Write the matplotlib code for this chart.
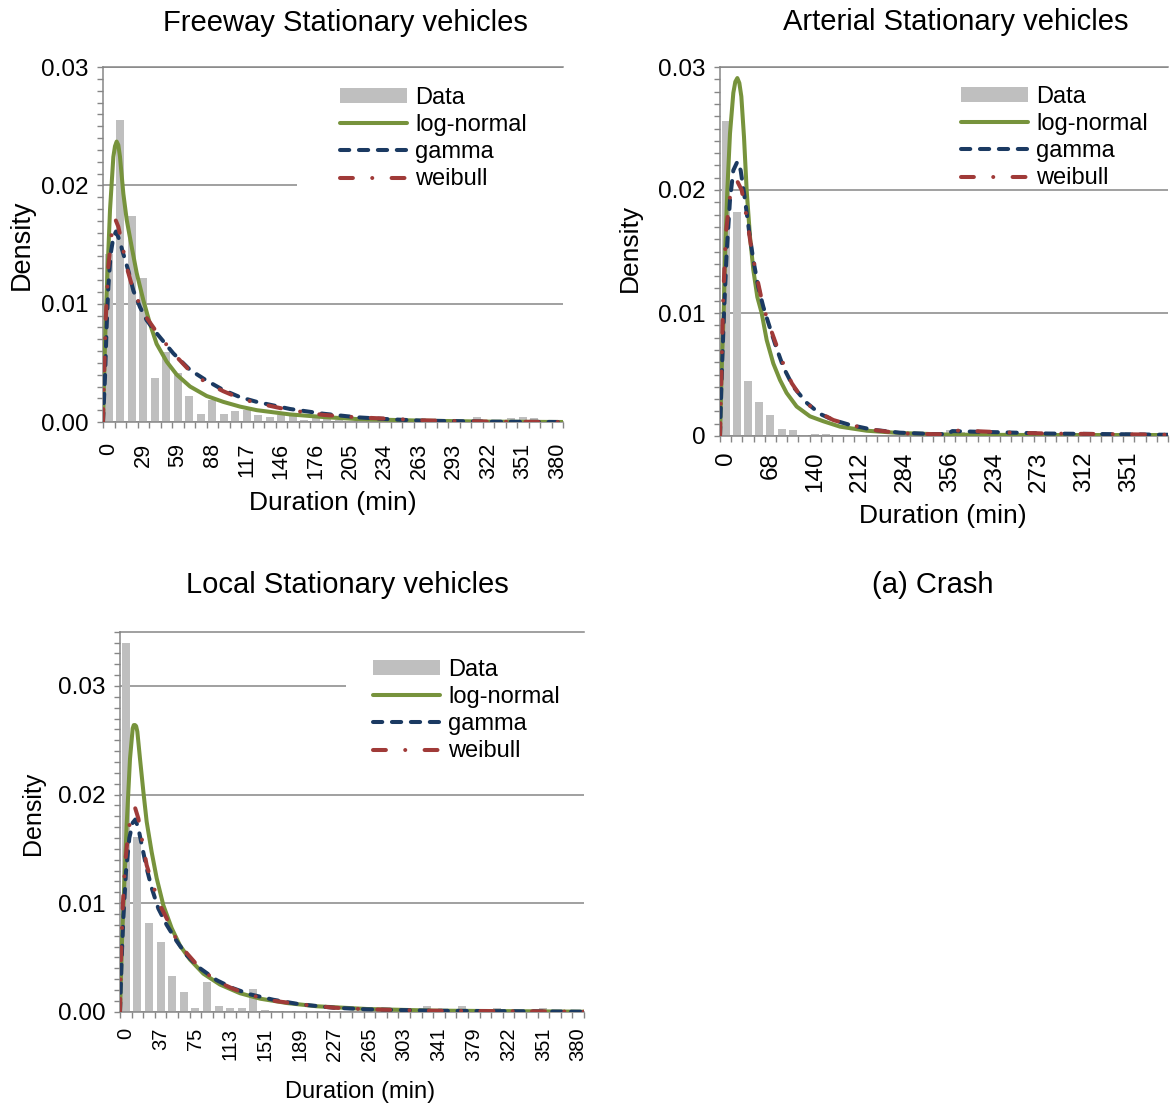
import matplotlib
matplotlib.use('Agg')
import matplotlib.pyplot as plt
from matplotlib.ticker import MultipleLocator, FixedLocator
from matplotlib.patches import Patch, Rectangle
from matplotlib.lines import Line2D
import numpy as np

plt.rcParams['font.family'] = ['Liberation Sans', 'DejaVu Sans']

W, H = 1171, 1106

# ---------------- data ----------------
n_bins = 40
max_minutes = 380
series_names = ['Data', 'log-normal', 'gamma', 'weibull']

# Freeway
fw_labels = ['0', '29', '59', '88', '117', '146', '176', '205', '234', '263', '293', '322', '351', '380']
fw_data = [0.0142, 0.0255, 0.0174, 0.0122, 0.0037, 0.0059, 0.0041, 0.0022, 0.0007, 0.0019,
           0.0007, 0.0009, 0.0010, 0.0006, 0.0004, 0.0006, 0.0005, 0.0002, 0.0003, 0.0008,
           0.0002, 0.0001, 0.0001, 0.0001, 0.0001, 0.0001, 0.0001, 0.0001, 0.0001, 0.0001,
           0.0001, 0.0001, 0.0004, 0.0001, 0.0001, 0.0003, 0.0004, 0.0003, 0.0001, 0.0001]
fw_lognorm_x = [0, 1.65, 3.03, 5.78, 8.54, 9.9, 11.29, 12.67, 14.04, 16.8, 19.56, 23.7, 27.8, 33.3,
                38.8, 44.3, 52.6, 60.9, 71.9, 85.6, 99.4, 113.2, 127, 154.5, 182, 209.5, 264.6,
                319.7, 380]
fw_lognorm_y = [0, 0.0066, 0.0109, 0.0179, 0.0224, 0.0233, 0.0237, 0.0234, 0.0224, 0.0193, 0.0171,
                0.0148, 0.0126, 0.0103, 0.0083, 0.0066, 0.0051, 0.0040, 0.0030, 0.0022, 0.0017,
                0.0013, 0.0010, 0.00064, 0.00042, 0.00025, 0.00011, 0.00003, 0]
fw_gamma_x = [0, 1.65, 3.03, 4.41, 6.33, 8.54, 10.74, 13.5, 16.8, 20.9, 25.1, 30.6, 36.1, 44.3, 58.1,
              71.9, 85.6, 99.4, 113.2, 127, 140.7, 154.5, 182, 209.5, 237, 264.6, 319.7, 380]
fw_gamma_y = [0, 0.0038, 0.0081, 0.0114, 0.0142, 0.0156, 0.0161, 0.0154, 0.0142, 0.0128, 0.0111,
              0.0097, 0.0086, 0.0075, 0.0058, 0.0044, 0.0035, 0.0027, 0.0021, 0.0017, 0.0014,
              0.0011, 0.0007, 0.0004, 0.00023, 0.00011, 0.00003, 0]
fw_weibull_x = [0, 0.83, 2.2, 4.41, 7.16, 9.91, 12.67, 15.4, 19.56, 25.1, 30.6, 36.1, 44.3, 58.1,
                71.9, 85.6, 99.4, 113.2, 127, 154.5, 182, 209.5, 264.6, 319.7, 380]
fw_weibull_y = [0, 0.0038, 0.0086, 0.0131, 0.0159, 0.0172, 0.0165, 0.0152, 0.0131, 0.0111, 0.0099,
                0.0088, 0.0076, 0.0058, 0.0043, 0.0033, 0.0026, 0.0020, 0.0016, 0.0010, 0.0006,
                0.0004, 0.00014, 0.00003, 0]

# Arterial
ar_labels = ['0', '68', '140', '212', '284', '356', '234', '273', '312', '351']
ar_data = [0.0256, 0.0182, 0.0045, 0.0028, 0.0017, 0.0006, 0.0005, 0.0001, 0.0002, 0.0002,
           0.0, 0.0, 0.0, 0.0, 0.0, 0.0, 0.0, 0.0, 0.0, 0.0001,
           0.0005, 0.0003, 0.0002, 0.0002, 0.0003, 0.0002, 0.0002, 0.0001, 0.0002, 0.0001,
           0.0001, 0.0001, 0.0003, 0.0001, 0.0001, 0.0002, 0.0003, 0.0002, 0.0001, 0.0001]
ar_lognorm_x = [0, 1.70, 3.11, 4.52, 6.22, 8.48, 11.31, 13.0, 14.7, 16.4, 18.1, 20.36, 22.6, 25.45,
                28.27, 31.66, 35.34, 39.6, 45.2, 50.9, 56.5, 65.0, 76.3, 87.6, 101.8, 124.4, 152.7,
                195.1, 265.8, 380]
ar_lognorm_y = [0, 0.0062, 0.0100, 0.0154, 0.0200, 0.0246, 0.0279, 0.0288, 0.0291, 0.0287, 0.0276,
                0.0243, 0.0200, 0.0162, 0.0135, 0.0113, 0.0100, 0.0078, 0.0059, 0.00455, 0.0035,
                0.0024, 0.0016, 0.0012, 0.00076, 0.00043, 0.00024, 0.00011, 0.00008, 0.00008]
ar_gamma_x = [0, 1.41, 3.39, 5.65, 8.48, 11.31, 14.7, 17.53, 21.2, 24.9, 28.27, 32.5, 36.75, 41.0,
              46.65, 53.7, 62.2, 73.5, 84.8, 96.1, 110.3, 130, 152.7, 180.9, 193, 197, 216, 239,
              278, 335, 380]
ar_gamma_y = [0, 0.0048, 0.0100, 0.0149, 0.0192, 0.0216, 0.0223, 0.0216, 0.0192, 0.0165, 0.0143,
              0.0121, 0.0105, 0.0092, 0.0075, 0.0056, 0.0040, 0.0027, 0.0018, 0.0013, 0.0009,
              0.0005, 0.00027, 0.00016, 0.00015, 0.0004, 0.00035, 0.0003, 0.0002, 0.00015, 0.0001]
ar_weibull_x = [0, 1.13, 2.83, 5.09, 7.92, 11.31, 14.7, 18.38, 22.6, 26.86, 31.1, 35.34, 39.6, 45.2,
                52.3, 60.8, 70.7, 82.0, 96.1, 110.3, 130, 152.7, 180.9, 193, 197, 216, 239, 278,
                335, 380]
ar_weibull_y = [0, 0.0048, 0.0116, 0.0165, 0.0192, 0.0204, 0.0207, 0.0200, 0.0178, 0.0151, 0.0130,
                0.0111, 0.0096, 0.0081, 0.0062, 0.0043, 0.0029, 0.0020, 0.0013, 0.0009, 0.0005,
                0.00022, 0.00015, 0.00015, 0.00045, 0.0004, 0.0003, 0.0002, 0.00015, 0.0001]

# Local
lc_labels = ['0', '37', '75', '113', '151', '189', '227', '265', '303', '341', '379', '322', '351', '380']
lc_data = [0.0340, 0.0161, 0.0082, 0.0064, 0.0033, 0.0018, 0.0003, 0.0027, 0.0005, 0.0003,
           0.0003, 0.0021, 0.0002, 0.0001, 0.0001, 0.0001, 0.0001, 0.0001, 0.0001, 0.0001,
           0.0001, 0.0001, 0.0001, 0.0001, 0.0001, 0.0001, 0.0005, 0.0001, 0.0001, 0.0005,
           0.0001, 0.0001, 0.0003, 0.0001, 0.0001, 0.0002, 0.0003, 0.0002, 0.0001, 0.0001]
lc_lognorm_x = [0, 1.64, 3.28, 5.46, 8.19, 10.4, 11.3, 12.3, 13.2, 14.2, 16.38, 19.1, 21.84, 25.94,
                30.03, 35.5, 42.3, 49.1, 57.3, 68.3, 81.9, 98.3, 114.7, 136.5, 161.1, 202, 256.6, 380]
lc_lognorm_y = [0, 0.0065, 0.0111, 0.0172, 0.0233, 0.0261, 0.0264, 0.0264, 0.0263, 0.0258, 0.0233,
                0.0203, 0.0175, 0.0147, 0.0123, 0.0098, 0.0077, 0.0061, 0.0048, 0.0035, 0.0025,
                0.0017, 0.0012, 0.0008, 0.0005, 0.00025, 0.0001, 0]
lc_gamma_x = [0, 1.37, 2.73, 4.91, 7.64, 10.4, 12.56, 15.02, 17.75, 21.84, 25.94, 31.4, 38.2, 46.4,
              54.6, 65.5, 79.2, 92.8, 106.5, 125.6, 147.4, 174.7, 202, 256.6, 380]
lc_gamma_y = [0, 0.0049, 0.0086, 0.0129, 0.0160, 0.0174, 0.0177, 0.0169, 0.0154, 0.0132, 0.0114,
              0.0095, 0.0080, 0.0065, 0.0052, 0.0040, 0.0029, 0.00215, 0.0016, 0.0011, 0.00068,
              0.00037, 0.00022, 0.00009, 0]
lc_weibull_x = [0, 0.82, 2.18, 4.1, 6.83, 9.56, 12.3, 15.02, 17.75, 21.84, 25.94, 32.76, 38.2, 46.4,
                54.6, 65.5, 79.2, 92.8, 106.5, 125.6, 147.4, 174.7, 202, 256.6, 380]
lc_weibull_y = [0, 0.0049, 0.0095, 0.0135, 0.0166, 0.0183, 0.0188, 0.0178, 0.0160, 0.0135, 0.0120,
                0.0098, 0.0086, 0.0066, 0.0054, 0.0040, 0.0028, 0.0021, 0.00154, 0.00101, 0.00068,
                0.00037, 0.00022, 0.00009, 0]

# ---------------- style ----------------
GRID = '#868686'
BAR = '#BFBFBF'
GREEN = '#77933C'
BLUE = '#1B3A62'
RED = '#A03A38'
LW = 2.9
DASH_G = (2.3, 2.4)
DASH_W = (3.2, 4.8, 0.01, 4.8)

fig = plt.figure(figsize=(W / 100, H / 100), dpi=100)


def px_rect(l, t, r, b):
    return [l / W, 1 - b / H, (r - l) / W, (b - t) / H]


def ftext(x, y, s, **kw):
    fig.text(x / W, 1 - y / H, s, ha='center', va='center', **kw)


def panel(rect, bins, labels, label_step, curves, ymax, ylabels, xfs, xpad, leg_xy, leg_bg):
    ax = fig.add_axes(rect)
    width = max_minutes / n_bins
    centers = (np.arange(len(bins)) + 0.5) * width
    ax.bar(centers, bins, width=width * 0.7, color=BAR, zorder=2, linewidth=0)
    (lx, ly), (gx, gy), (wx, wy) = curves
    ax.plot(lx, ly, color=GREEN, lw=LW, solid_joinstyle='round', solid_capstyle='round', zorder=3)
    ax.plot(gx, gy, color=BLUE, lw=LW, dashes=DASH_G, dash_capstyle='round',
            dash_joinstyle='round', zorder=3)
    ax.plot(wx, wy, color=RED, lw=LW, dashes=DASH_W, dash_capstyle='round',
            dash_joinstyle='round', zorder=3)

    ax.set_xlim(0, max_minutes)
    ax.set_ylim(0, ymax)
    bounds = np.arange(n_bins + 1) * width
    ax.set_xticks(bounds)
    ax.set_xticklabels([])
    ax.set_xticks(centers[::label_step], minor=True)
    ax.set_xticklabels(labels, minor=True, rotation=90, fontsize=xfs)
    ax.tick_params(axis='x', which='major', length=4, width=1, color=GRID, direction='out')
    ax.tick_params(axis='x', which='minor', length=0, pad=xpad)

    ax.yaxis.set_major_locator(FixedLocator([0, 0.01, 0.02, 0.03]))
    ax.set_yticklabels(ylabels)
    ax.yaxis.set_minor_locator(MultipleLocator(0.001))
    ax.tick_params(axis='y', which='both', length=4, width=1, color=GRID, direction='out',
                   labelsize=17.5, pad=6.5)
    ax.yaxis.grid(True, which='major', color=GRID, lw=1.1)
    ax.set_axisbelow(True)
    for s in ['left', 'bottom', 'top']:
        ax.spines[s].set_color(GRID)
        ax.spines[s].set_linewidth(1.1)
    ax.spines['right'].set_visible(False)

    # white legend background (as in the original chart, it hides the grid behind the legend)
    if leg_bg is not None:
        x0, y0, x1, y1 = leg_bg
        ax.add_patch(Rectangle((x0, y0), x1 - x0, y1 - y0, transform=ax.transAxes,
                               facecolor='white', edgecolor='none', zorder=1))

    handles = [Patch(facecolor=BAR, edgecolor='none'),
               Line2D([], [], color=GREEN, lw=LW, solid_capstyle='round'),
               Line2D([], [], color=BLUE, lw=LW, dashes=DASH_G, dash_capstyle='round'),
               Line2D([], [], color=RED, lw=LW, dashes=DASH_W, dash_capstyle='round')]
    ax.legend(handles, series_names, loc='upper left',
              bbox_to_anchor=(leg_xy[0] / W, 1 - leg_xy[1] / H),
              bbox_transform=fig.transFigure, fontsize=17, frameon=False,
              borderpad=0.5, borderaxespad=0, handlelength=2.85, handleheight=0.55,
              handletextpad=0.35, labelspacing=0.22)
    return ax


panel(px_rect(103, 67, 563, 422), fw_data, fw_labels, 3,
      [(fw_lognorm_x, fw_lognorm_y), (fw_gamma_x, fw_gamma_y), (fw_weibull_x, fw_weibull_y)],
      0.03, ['0.00', '0.01', '0.02', '0.03'], 15.6, 15, (328, 75), (0.422, 0.645, 1.0, 0.975))
panel(px_rect(720, 67, 1168, 436), ar_data, ar_labels, 4,
      [(ar_lognorm_x, ar_lognorm_y), (ar_gamma_x, ar_gamma_y), (ar_weibull_x, ar_weibull_y)],
      0.03, ['0', '0.01', '0.02', '0.03'], 17.5, 11.3, (949, 74), None)
panel(px_rect(120, 631.7, 584, 1011.7), lc_data, lc_labels, 3,
      [(lc_lognorm_x, lc_lognorm_y), (lc_gamma_x, lc_gamma_y), (lc_weibull_x, lc_weibull_y)],
      0.035, ['0.00', '0.01', '0.02', '0.03'], 14.5, 11.5, (361, 647), (0.487, 0.636, 1.0, 0.975))

ftext(345, 23, 'Freeway Stationary vehicles', fontsize=21)
ftext(956, 22, 'Arterial Stationary vehicles', fontsize=21)
ftext(347, 585, 'Local Stationary vehicles', fontsize=21)
ftext(933, 585, '(a) Crash', fontsize=21)

ftext(22, 245, 'Density', fontsize=19.5, rotation=90)
ftext(630, 248, 'Density', fontsize=19, rotation=90)
ftext(33, 813, 'Density', fontsize=18, rotation=90)

ftext(333, 503, 'Duration (min)', fontsize=19)
ftext(943, 516, 'Duration (min)', fontsize=19)
ftext(360, 1092, 'Duration (min)', fontsize=17)

fig.savefig('out.png', dpi=100)
